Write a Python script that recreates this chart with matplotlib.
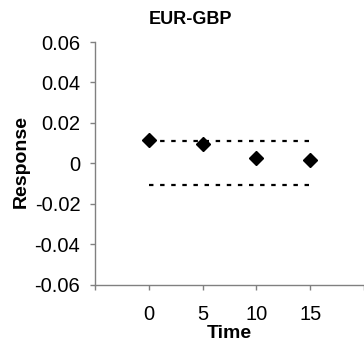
#!/usr/bin/env python3
# -*- coding: utf-8 -*-

"""
impulse response EUR-GBP with confidence band
"""

import matplotlib
matplotlib.use("Agg")
import matplotlib.pyplot as plt

# data
time = [0, 5, 10, 15]
response = [0.0115, 0.0095, 0.0025, 0.0017]
upper = [0.011, 0.011, 0.011, 0.011]
lower = [-0.0105, -0.0105, -0.0105, -0.0105]
yticks = [-0.06, -0.04, -0.02, 0, 0.02, 0.04, 0.06]
ylabels = ['-0.06', '-0.04', '-0.02', '0', '0.02', '0.04', '0.06']
xticks = [-5, 0, 5, 10, 15, 20]
xlabels = ['', '0', '5', '10', '15', '']

if __name__ == "__main__":
    plt.rcParams['font.family'] = ['Liberation Sans', 'DejaVu Sans']
    fig = plt.figure(figsize=(3.64, 3.5), dpi=100)
    ax1 = fig.add_axes([0.261, 0.186, 0.739, 0.694])

    ax1.plot(time, upper, color='black', lw=1.6, ls=(0, (2, 3)))
    ax1.plot(time, lower, color='black', lw=1.6, ls=(0, (2, 3)))
    ax1.plot(time, response, marker='D', ms=6.8, color='black', lw=0)

    ax1.set_xlim(-5, 20)
    ax1.set_ylim(-0.06, 0.06)
    ax1.set_xticks(xticks)
    ax1.set_xticklabels(xlabels)
    ax1.set_yticks(yticks)
    ax1.set_yticklabels(ylabels)
    ax1.tick_params(labelsize=14.5, direction='out', length=3.6, width=1,
                    color='#808080')
    ax1.tick_params(axis='y', pad=7)
    ax1.tick_params(axis='x', pad=11)

    ax1.spines['top'].set_visible(False)
    ax1.spines['right'].set_visible(False)
    for s in ['left', 'bottom']:
        ax1.spines[s].set_color('#808080')
        ax1.spines[s].set_linewidth(1)

    fig.text(190 / 364, 1 - 20 / 350, 'EUR-GBP', ha='center', va='center',
             fontsize=13, fontweight='bold')
    fig.text(21 / 364, 1 - 162 / 350, 'Response', ha='center', va='center',
             rotation=90, fontsize=14, fontweight='bold')
    fig.text(229 / 364, 1 - 334 / 350, 'Time', ha='center', va='center',
             fontsize=14, fontweight='bold')

    plt.savefig('out.png', dpi=100)
